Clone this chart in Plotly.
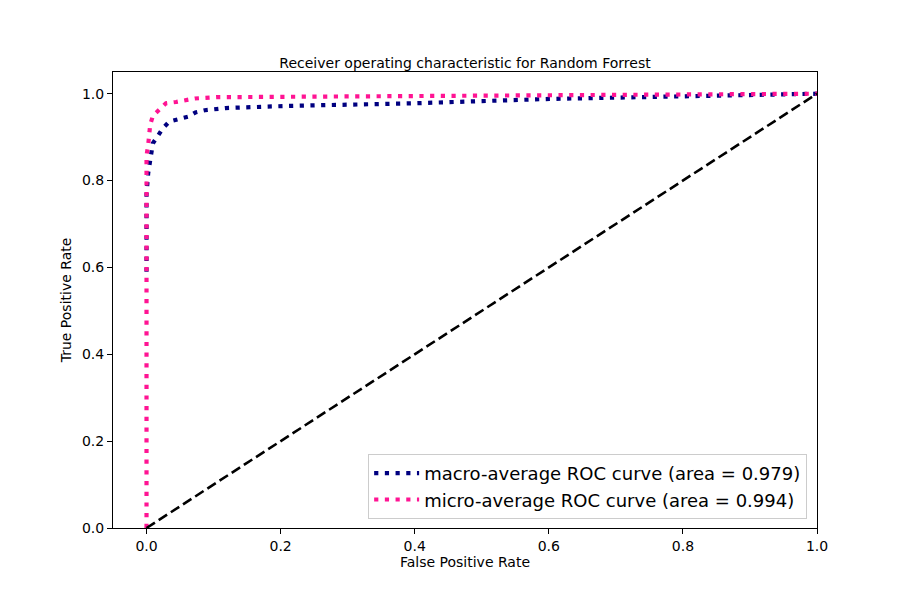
import plotly.graph_objects as go

# macro-average ROC
macro_fpr = [0.0, 0.0, 0.0025, 0.0045, 0.006, 0.0095, 0.017, 0.024, 0.034, 0.048,
             0.062, 0.073, 0.087, 0.118, 0.150, 0.213, 0.308, 0.40, 0.601, 0.80, 1.0]
macro_tpr = [0.59, 0.769, 0.817, 0.840, 0.864, 0.886, 0.903, 0.920, 0.936, 0.941,
             0.947, 0.957, 0.962, 0.967, 0.969, 0.972, 0.975, 0.978, 0.988, 0.993, 1.0]

# micro-average ROC
micro_fpr = [0.0, 0.0, 0.0, 0.0025, 0.0035, 0.0055, 0.0095, 0.019, 0.029, 0.044,
             0.058, 0.072, 0.104, 0.30, 0.60, 0.80, 1.0]
micro_tpr = [0.0, 0.808, 0.857, 0.882, 0.906, 0.929, 0.949, 0.962, 0.978, 0.981,
             0.985, 0.989, 0.992, 0.994, 0.996, 0.998, 1.0]

diag_x = [0, 1]
diag_y = [0, 1]

ticks = [0, 0.2, 0.4, 0.6, 0.8, 1.0]
tick_text = ["0.0", "0.2", "0.4", "0.6", "0.8", "1.0"]

FONT = "DejaVu Sans"

fig = go.Figure()
fig.add_trace(go.Scatter(x=macro_fpr, y=macro_tpr, mode="lines",
                         name="macro-average ROC curve (area = 0.979)",
                         line=dict(color="#000080", width=4.2, dash="4.2px,6.5px")))
fig.add_trace(go.Scatter(x=micro_fpr, y=micro_tpr, mode="lines",
                         name="micro-average ROC curve (area = 0.994)",
                         line=dict(color="#ff1493", width=4.2, dash="4.2px,6.5px")))
fig.add_trace(go.Scatter(x=diag_x, y=diag_y, mode="lines", showlegend=False,
                         line=dict(color="black", width=2.6, dash="10px,4.5px")))

axis = dict(showline=True, mirror=True, linecolor="black", linewidth=1,
            ticks="outside", ticklen=5, tickcolor="black", showgrid=False,
            zeroline=False, tickfont=dict(family=FONT, size=14, color="black"))

# page body has an 8px margin, so the plot area is shifted up/left by 8px
fig.update_layout(
    width=907, height=604,
    paper_bgcolor="white", plot_bgcolor="white",
    margin=dict(l=105, r=98, t=64, b=84),
    title=dict(text="Receiver operating characteristic for Random Forrest",
               xref="paper", x=0.5, xanchor="center",
               yref="paper", y=1.0, yanchor="bottom", pad=dict(b=4),
               font=dict(family=FONT, size=14, color="black")),
    xaxis=dict(range=[-0.05, 1.0], tickvals=ticks, ticktext=tick_text,
               title=dict(text="False Positive Rate", standoff=2,
                          font=dict(family=FONT, size=14, color="black")), **axis),
    yaxis=dict(range=[0, 1.05], tickvals=ticks, ticktext=tick_text,
               title=dict(text="True Positive Rate", standoff=7,
                          font=dict(family=FONT, size=14, color="black")), **axis),
    legend=dict(x=0.986, y=0.02, xanchor="right", yanchor="bottom",
                bgcolor="rgba(255,255,255,0.8)", bordercolor="#cccccc", borderwidth=1,
                tracegroupgap=0, itemwidth=45,
                font=dict(family=FONT, size=18, color="black")),
)

fig.write_html("out.html")
